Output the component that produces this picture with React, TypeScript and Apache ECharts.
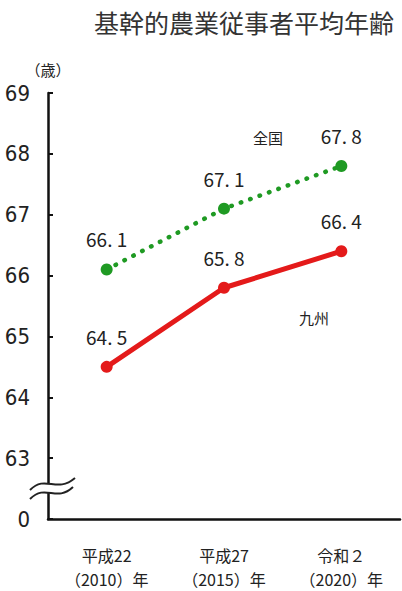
import React, { useEffect, useRef } from "react";
import * as echarts from "echarts";

const categories = ["平成22\n（2010）年", "平成27\n（2015）年", "令和２\n（2020）年"];
const nationalValues = [66.1, 67.1, 67.8];
const kyushuValues = [64.5, 65.8, 66.4];
const seriesNames = ["全国", "九州"];
const yTicks = [62, 63, 64, 65, 66, 67, 68, 69];

const JP = "'Noto Sans CJK JP', 'Noto Sans', sans-serif";
const NUM = "'Liberation Sans Narrow', 'DejaVu Sans Condensed', 'Liberation Sans', sans-serif";

export default function App() {
  const ref = useRef<HTMLDivElement>(null);
  useEffect(() => {
    if (!ref.current) return;
    const chart = echarts.init(ref.current, undefined, { renderer: "svg" });
    const fmt = (p: any) => {
      const s = Number(p.value).toFixed(1).split(".");
      return s[0] + ". " + s[1];
    };
    chart.setOption({
      animation: false,
      backgroundColor: "#ffffff",
      title: {
        text: "基幹的農業従事者平均年齢",
        left: 89,
        top: 4,
        textStyle: { fontFamily: JP, fontSize: 25, fontWeight: "normal", color: "#333" },
      },
      grid: { left: 48, right: 2, top: 93, bottom: 70 },
      xAxis: {
        type: "category",
        data: categories,
        boundaryGap: true,
        axisLine: { show: true, lineStyle: { color: "#111", width: 2.5 } },
        axisTick: { show: false },
        axisLabel: {
          margin: 24,
          fontFamily: JP,
          fontSize: 16,
          lineHeight: 24,
          color: "#222",
        },
      },
      yAxis: {
        type: "value",
        min: yTicks[0],
        max: yTicks[yTicks.length - 1],
        interval: 1,
        name: "（歳）",
        nameLocation: "end",
        nameGap: 16,
        nameTextStyle: { fontFamily: JP, fontSize: 15, color: "#222", align: "center" },
        splitLine: { show: false },
        axisLine: { show: true, lineStyle: { color: "#111", width: 2.5 } },
        axisTick: { show: true, inside: true, length: 5, lineStyle: { color: "#111", width: 2 } },
        axisLabel: {
          margin: 18,
          fontFamily: NUM,
          fontSize: 22,
          color: "#222",
          formatter: (v: number) => (v === yTicks[0] ? "0" : String(v)),
        },
      },
      graphic: [
        { type: "rect", shape: { x: 42, y: 484, width: 12, height: 9 }, style: { fill: "#fff" }, z: 100 },
        {
          type: "bezierCurve",
          shape: { x1: 30, y1: 490, cpx1: 46, cpy1: 474, cpx2: 56, cpy2: 494, x2: 75, y2: 478 },
          style: { stroke: "#222", lineWidth: 2, fill: "none" },
          z: 101,
        },
        {
          type: "bezierCurve",
          shape: { x1: 30, y1: 499, cpx1: 46, cpy1: 483, cpx2: 56, cpy2: 503, x2: 73, y2: 487 },
          style: { stroke: "#222", lineWidth: 2, fill: "none" },
          z: 101,
        },
        {
          type: "text",
          x: 268,
          y: 137,
          style: { text: seriesNames[0], fontFamily: JP, fontSize: 15, fill: "#222", align: "center", verticalAlign: "middle" },
        },
        {
          type: "text",
          x: 314,
          y: 317,
          style: { text: seriesNames[1], fontFamily: JP, fontSize: 15, fill: "#222", align: "center", verticalAlign: "middle" },
        },
      ],
      series: [
        {
          name: seriesNames[0],
          type: "line",
          data: nationalValues,
          symbol: "circle",
          symbolSize: 12,
          itemStyle: { color: "#1f9a23" },
          lineStyle: { color: "#1f9a23", width: 4.5, type: [0.5, 9.5], cap: "round" },
          label: {
            show: true,
            position: "top",
            distance: 15,
            formatter: fmt,
            fontFamily: JP,
            fontSize: 19,
            color: "#222",
          },
        },
        {
          name: seriesNames[1],
          type: "line",
          data: kyushuValues,
          symbol: "circle",
          symbolSize: 12,
          itemStyle: { color: "#e41a1a" },
          lineStyle: { color: "#e41a1a", width: 5 },
          label: {
            show: true,
            position: "top",
            distance: 15,
            formatter: fmt,
            fontFamily: JP,
            fontSize: 19,
            color: "#222",
          },
        },
      ],
    });
    return () => chart.dispose();
  }, []);
  return <div ref={ref} style={{ width: 402, height: 591, position: "absolute", left: 0, top: 0 }} />;
}
